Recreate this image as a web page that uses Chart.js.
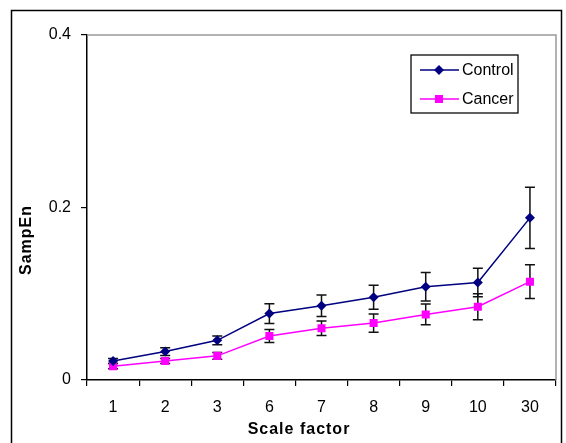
<!DOCTYPE html>
<html>
<head>
<meta charset="utf-8">
<script src="https://cdn.jsdelivr.net/npm/chart.js@4.4.1/dist/chart.umd.min.js"></script>
<style>
  body { margin: 0; background: #fff; }
  #wrap { width: 566px; height: 443px; }
</style>
</head>
<body>
<div id="wrap"><canvas id="chart1" width="566" height="443"></canvas></div>
<script>
const FONT = '"Liberation Sans", Arial, sans-serif';

// scale factors on the x axis
let scaleFactors = ['1', '2', '3', '6', '7', '8', '9', '10', '30'];
// mean SampEn per group and the error bar half-widths
let controlVals = [0.022, 0.033, 0.046, 0.077, 0.086, 0.096, 0.108, 0.113, 0.188];
let controlErr = [0.003, 0.0045, 0.005, 0.0115, 0.0125, 0.014, 0.0165, 0.0165, 0.0355];
let cancerVals = [0.016, 0.022, 0.028, 0.051, 0.060, 0.066, 0.076, 0.085, 0.114];
let cancerErr = [0.003, 0.003, 0.004, 0.0075, 0.0085, 0.0105, 0.012, 0.015, 0.0195];
let yTicks = [0, 0.2, 0.4];

const navy = '#000080';
const magenta = '#ff00ff';

// error bars, frame, axis titles and the boxed legend
const extras = {
    id: 'extras',
    beforeDatasetsDraw(chart) {
        const ctx = chart.ctx;
        const x = chart.scales.x, y = chart.scales.y;
        ctx.save();
        ctx.strokeStyle = '#111';
        ctx.lineWidth = 1.5;
        const bars = [[controlVals, controlErr], [cancerVals, cancerErr]];
        bars.forEach(([vals, errs]) => {
            vals.forEach((v, i) => {
                const px = x.getPixelForValue(i);
                const top = y.getPixelForValue(v + errs[i]);
                const bot = y.getPixelForValue(v - errs[i]);
                ctx.beginPath();
                ctx.moveTo(px, top); ctx.lineTo(px, bot);
                ctx.moveTo(px - 5, top); ctx.lineTo(px + 5, top);
                ctx.moveTo(px - 5, bot); ctx.lineTo(px + 5, bot);
                ctx.stroke();
            });
        });
        ctx.restore();
    },
    afterDraw(chart) {
        const ctx = chart.ctx;
        const a = chart.chartArea;
        ctx.save();
        // outer border
        ctx.strokeStyle = '#000';
        ctx.lineWidth = 1.5;
        ctx.strokeRect(11.5, 10.5, 550, 445);
        // grey plot frame on top and right
        ctx.strokeStyle = '#999';
        ctx.lineWidth = 1.5;
        ctx.beginPath();
        ctx.moveTo(a.left, a.top); ctx.lineTo(a.right, a.top); ctx.lineTo(a.right, a.bottom);
        ctx.stroke();

        // axis titles
        ctx.fillStyle = '#000';
        ctx.font = 'bold 16px ' + FONT;
        ctx.letterSpacing = '1px';
        ctx.textAlign = 'center';
        ctx.textBaseline = 'middle';
        ctx.fillText('Scale factor', 299, 430);
        ctx.save();
        ctx.translate(27, 240);
        ctx.rotate(-Math.PI / 2);
        ctx.fillText('SampEn', 0, 0);
        ctx.restore();
        ctx.letterSpacing = '0px';

        // legend
        ctx.strokeStyle = '#000';
        ctx.lineWidth = 1.25;
        ctx.strokeRect(411, 55, 107, 58);
        ctx.font = '16px ' + FONT;
        ctx.textAlign = 'left';
        const rows = [[navy, 'Control', 70], [magenta, 'Cancer', 99]];
        rows.forEach(([col, label, ry], k) => {
            ctx.strokeStyle = col;
            ctx.lineWidth = 1.5;
            ctx.beginPath();
            ctx.moveTo(420, ry); ctx.lineTo(459, ry);
            ctx.stroke();
            ctx.fillStyle = col;
            ctx.beginPath();
            if (k === 0) {
                ctx.moveTo(439, ry - 5); ctx.lineTo(444, ry); ctx.lineTo(439, ry + 5); ctx.lineTo(434, ry);
            } else {
                ctx.rect(435, ry - 4, 8, 8);
            }
            ctx.fill();
            ctx.fillStyle = '#000';
            ctx.fillText(label, 462, ry + 1);
        });
        ctx.restore();
    }
};

const ctx = document.getElementById('chart1').getContext('2d');
const chart = new Chart(ctx, {
    type: 'line',
    data: {
        labels: scaleFactors,
        datasets: [{
            label: 'Control',
            data: controlVals,
            borderColor: navy,
            backgroundColor: navy,
            borderWidth: 1.5,
            pointStyle: 'rectRot',
            pointRadius: 5,
            pointBorderWidth: 0,
            tension: 0
        }, {
            label: 'Cancer',
            data: cancerVals,
            borderColor: magenta,
            backgroundColor: magenta,
            borderWidth: 1.5,
            pointStyle: 'rect',
            pointRadius: 5.7,
            pointBorderWidth: 0,
            tension: 0
        }]
    },
    options: {
        responsive: false,
        animation: false,
        devicePixelRatio: 1,
        layout: { padding: { left: 0, top: 35, right: 10, bottom: 0 } },
        plugins: {
            legend: { display: false },
            tooltip: { enabled: false }
        },
        scales: {
            x: {
                offset: true,
                grid: { offset: true, drawOnChartArea: false, drawTicks: true, tickLength: 6, color: '#000', lineWidth: 1.2 },
                border: { display: true, color: '#000', width: 1.5 },
                ticks: { color: '#000', font: { family: FONT, size: 16 }, padding: 12, maxRotation: 0 },
                afterFit(scale) { scale.height = 63; }
            },
            y: {
                min: 0,
                max: 0.4,
                afterBuildTicks(scale) { scale.ticks = yTicks.map(v => ({ value: v })); },
                grid: { drawOnChartArea: false, drawTicks: true, tickLength: 6, color: '#000', lineWidth: 1.2 },
                border: { display: true, color: '#000', width: 1.5 },
                ticks: {
                    color: '#000',
                    font: { family: FONT, size: 16 },
                    padding: 10,
                    callback: v => (v === 0 ? '0' : String(v))
                },
                afterFit(scale) { scale.width = 87; }
            }
        }
    },
    plugins: [extras]
});
</script>
</body>
</html>
